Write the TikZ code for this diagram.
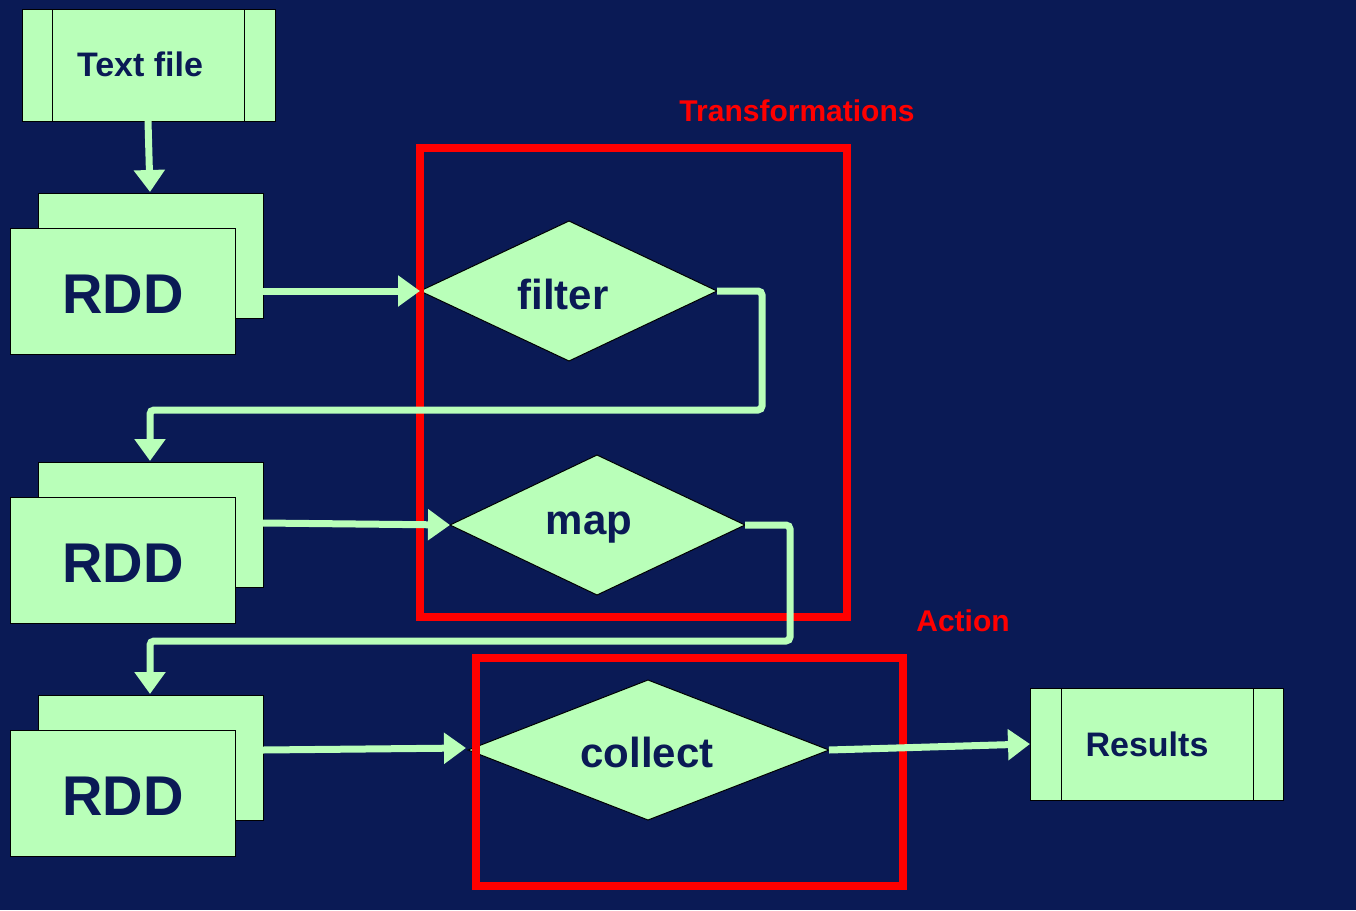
\documentclass[tikz,border=0pt]{standalone}
\usepackage{fontspec}
\setmainfont{Liberation Sans}
\usetikzlibrary{arrows.meta}
\definecolor{bg}{HTML}{0A1A55}
\definecolor{lg}{HTML}{B9FFB9}
\definecolor{nv}{HTML}{0A1A55}
\tikzset{
 shp/.style={fill=lg,draw=black,line width=1pt},
 conn/.style={draw=lg,line width=7pt,-{Triangle[length=22pt,width=30pt]}},
 lbl/.style={text=nv,font=\bfseries},
 redbox/.style={draw=red,line width=8pt},
 redlbl/.style={text=red,font=\bfseries\fontsize{30}{30}\selectfont}
}
\begin{document}
\begin{tikzpicture}[x=1pt,y=-1pt]
\fill[bg] (0,0) rectangle (1356,910);
\useasboundingbox (0,0) rectangle (1356,910);
% Text file
\draw[shp] (22,9) rectangle (275,121);
\draw[black,line width=1pt] (52,9)--(52,121) (244,9)--(244,121);
\node[lbl,font=\bfseries\fontsize{34}{34}\selectfont] (tf) at (140,64) {Text file};
\coordinate (tfb) at (148,121);
% RDDs
\foreach \y/\n in {193/r1,462/r2,695/r3}{
 \draw[shp] (38,\y) rectangle (263,\y+125);
 \draw[shp] (10,\y+35) rectangle (235,\y+161);
 \node[lbl,font=\bfseries\fontsize{56}{56}\selectfont] (\n) at (123,\y+101) {RDD};
}
% diamonds
\draw[shp] (420,291)--(569,221)--(717,291)--(569,361)--cycle;
\node[lbl,font=\bfseries\fontsize{42}{42}\selectfont] (filter) at (563,294) {filter};
\draw[shp] (450,525)--(597,455)--(745,525)--(597,595)--cycle;
\node[lbl,font=\bfseries\fontsize{42}{42}\selectfont] (map) at (589,528) {map};
\draw[shp] (468,750)--(648,680)--(829,750)--(648,820)--cycle;
\node[lbl,font=\bfseries\fontsize{42}{42}\selectfont] (collect) at (647,752) {collect};
% Results
\draw[shp] (1030,688) rectangle (1283,800);
\draw[black,line width=1pt] (1061,688)--(1061,800) (1253,688)--(1253,800);
\node[lbl,font=\bfseries\fontsize{34}{34}\selectfont] (res) at (1147,744) {Results};
% red boxes
\draw[redbox] (420,148) rectangle (847,617);
\node[redlbl] (tl) at (797,111) {Transformations};
\draw[redbox] (476,658) rectangle (903,886);
\node[redlbl] (al) at (963,621) {Action};
% connectors
\coordinate (fl) at (420,291); \coordinate (fr) at (717,291);
\coordinate (ml) at (450,525); \coordinate (mr) at (745,525);
\coordinate (cl) at (466,748); \coordinate (cr) at (829,750);
\coordinate (rl) at (1030,744);
\coordinate (r1t) at (150,192); \coordinate (r1r) at (236,291);
\coordinate (r2t) at (150,461); \coordinate (r2r) at (263,523);
\coordinate (r3t) at (150,694); \coordinate (r3r) at (263,750);
\draw[conn] (tfb)--(r1t);
\draw[conn] (r1r)--(fl);
\draw[conn,rounded corners=4pt] (fr)--(762,291)--(762,410)--(150,410)--(r2t);
\draw[conn] (r2r)--(ml);
\draw[conn,rounded corners=4pt] (mr)--(790,525)--(790,641)--(150,641)--(r3t);
\draw[conn] (r3r)--(cl);
\draw[conn] (cr)--(rl);
\end{tikzpicture}
\end{document}
